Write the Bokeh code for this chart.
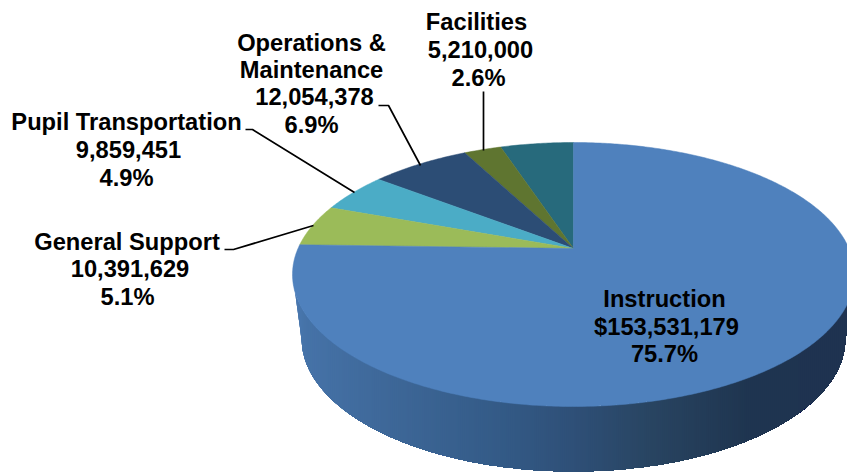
import numpy as np
from bokeh.plotting import figure
from bokeh.models import Range1d
from bokeh.core.properties import value
from bokeh.embed import file_html
from bokeh.resources import INLINE

slice_names = ["(unlabeled)", "Facilities", "Operations & Maintenance",
               "Pupil Transportation", "General Support", "Instruction"]
slice_pct = [5.1, 2.6, 6.9, 4.9, 5.1, 75.7]
slice_colors = ["#276A7C", "#5F7530", "#2C4D75", "#4BACC6", "#9BBB59", "#4F81BD"]

label_lines = [
    "Facilities", "5,210,000", "2.6%",
    "Operations &", "Maintenance", "12,054,378", "6.9%",
    "Pupil Transportation", "9,859,451", "4.9%",
    "General Support", "10,391,629", "5.1%",
    "Instruction", "$153,531,179", "75.7%",
]
label_x = [476, 480, 478, 311, 311, 314, 311, 126, 128, 126, 126.5, 129.5, 127, 664, 666, 664]
label_y = [21, 49, 77, 42, 69, 96, 124, 121, 149, 177, 241, 268, 296, 298, 326, 353]

leaders_x = [[245, 252, 354], [378, 388, 420], [483, 483], [224, 233, 313]]
leaders_y = [[129, 129, 192], [105, 105, 165], [91, 150], [249, 249, 225]]

# pie geometry in page pixels
CX, TOP_CY, TOP_RX, TOP_RY = 573, 274, 281, 132
BOT_CY, BOT_RX, BOT_RY = 338, 272, 133
SHIFT = 26 / 132  # perspective shift of the apex towards the back

wall_stop_x = [292, 305, 380, 500, 573, 650, 750, 847]
wall_stop_r = [0x4C, 0x46, 0x3F, 0x34, 0x2F, 0x29, 0x1F, 0x1F]
wall_stop_g = [0x7A, 0x73, 0x69, 0x5B, 0x50, 0x45, 0x35, 0x33]
wall_stop_b = [0xB2, 0xA8, 0x9A, 0x87, 0x78, 0x62, 0x50, 0x50]


def project(phi):
    u, v = np.cos(phi), np.sin(phi)
    d = 1 + SHIFT * u
    return (CX - TOP_RX * v * np.sqrt(1 - SHIFT ** 2) / d,
            TOP_CY - TOP_RY * (u + SHIFT) / d)


p = figure(width=847, height=473, output_backend="svg", toolbar_location=None,
           x_range=Range1d(0, 847), y_range=Range1d(473, 0),
           min_border=0, outline_line_color=None, background_fill_color="white",
           border_fill_color="white")
p.axis.visible = False
p.grid.visible = False


def wall_bottom(x):
    dx = x - CX
    if abs(dx) <= BOT_RX:
        return BOT_CY + BOT_RY * np.sqrt(1 - (dx / BOT_RX) ** 2)
    return BOT_CY - (abs(dx) - BOT_RX) / (TOP_RX - BOT_RX) * (BOT_CY - TOP_CY)


def wall_top(x):
    return TOP_CY + TOP_RY * np.sqrt(max(0.0, 1 - ((x - CX) / TOP_RX) ** 2))


# side wall gradient: each strip is the silhouette from its left edge rightwards, painted left to right
edges = np.arange(CX - TOP_RX, CX + TOP_RX, 2.0)
for a in edges:
    col = "#%02x%02x%02x" % (int(np.interp(a + 1, wall_stop_x, wall_stop_r)),
                             int(np.interp(a + 1, wall_stop_x, wall_stop_g)),
                             int(np.interp(a + 1, wall_stop_x, wall_stop_b)))
    x = np.arange(a, CX + TOP_RX + 0.5, 2.0)
    top = [wall_top(v) for v in x]
    bottom = [wall_bottom(v) for v in x]
    p.patch(np.r_[x, x[::-1]], np.r_[top, bottom[::-1]], fill_color=col, line_color=None)

start = 0.0
total = sum(slice_pct)
for pct, col in zip(slice_pct, slice_colors):
    share = pct / total * 100
    phi = np.radians(np.linspace(start, start + share, max(int(share * 6), 8)) * 3.6)
    ax, ay = project(phi)
    apex_x, apex_y = CX, TOP_CY - TOP_RY * SHIFT
    p.patch(np.r_[apex_x, ax], np.r_[apex_y, ay], fill_color=col, line_color=col, line_width=0.5)
    start += share

p.multi_line(leaders_x, leaders_y, line_color="black", line_width=1.7)

p.text(label_x, label_y, text=label_lines, text_font=value("Liberation Sans"),
       text_font_style="bold", text_font_size="23.7px", text_color="black",
       text_align="center", text_baseline="middle")

open("out.html", "w").write(file_html(p, INLINE))
